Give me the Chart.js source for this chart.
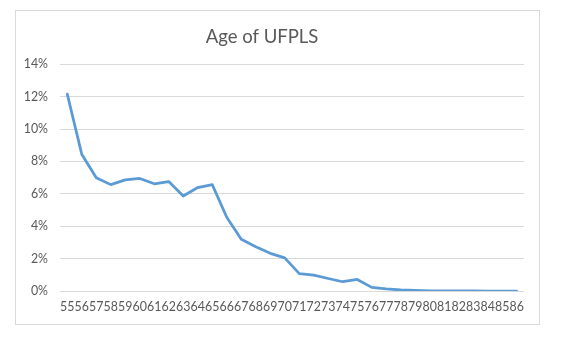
<!DOCTYPE html>
<html>
<head>
<meta charset="utf-8">
<script src="https://cdn.jsdelivr.net/npm/chart.js@4"></script>
<style>
  html, body { margin: 0; padding: 0; background: #fff; }
  #wrap { position: relative; width: 564px; height: 344px; }
</style>
</head>
<body>
<div id="wrap"><canvas id="c" width="564" height="344"></canvas></div>
<script>
const title = 'Age of UFPLS';
const ages = ['55','56','57','58','59','60','61','62','63','64','65','66','67','68','69','70',
              '71','72','73','74','75','76','77','78','79','80','81','82','83','84','85','86'];
const sharePct = [12.15, 8.45, 7.0, 6.57, 6.86, 6.95, 6.62, 6.76, 5.87, 6.39, 6.57, 4.56,
                  3.2, 2.74, 2.33, 2.05, 1.08, 0.99, 0.78, 0.58, 0.72, 0.23, 0.14, 0.07,
                  0.05, 0.02, 0.01, 0.01, 0.01, 0.0, 0.0, 0.0];
const yMin = 0, yMax = 14, yStep = 2;

const frame = {
  id: 'frame',
  beforeDraw(chart) {
    const ctx = chart.ctx;
    ctx.save();
    ctx.fillStyle = '#ffffff';
    ctx.fillRect(0, 0, chart.width, chart.height);
    ctx.strokeStyle = '#D9D9D9';
    ctx.lineWidth = 1;
    ctx.strokeRect(15.5, 10.5, 524, 314);
    ctx.restore();
  }
};

new Chart(document.getElementById('c'), {
  type: 'line',
  data: {
    labels: ages,
    datasets: [{
      data: sharePct,
      borderColor: '#5B9BD5',
      borderWidth: 2.75,
      pointRadius: 0,
      tension: 0,
      borderJoinStyle: 'round',
      borderCapStyle: 'round',
      fill: false
    }]
  },
  options: {
    responsive: false,
    animation: false,
    layout: { padding: { left: 0, right: 40, top: 0, bottom: 22 } },
    plugins: {
      legend: { display: false },
      tooltip: { enabled: false },
      title: {
        display: true,
        text: title,
        color: '#595959',
        font: { family: 'Lato', size: 18.5, weight: 'normal' },
        padding: { top: 26, bottom: 16 }
      }
    },
    scales: {
      x: {
        offset: true,
        grid: { display: false, drawTicks: false },
        border: { display: false },
        ticks: {
          autoSkip: false,
          maxRotation: 0,
          minRotation: 0,
          padding: 8,
          color: '#595959',
          font: { family: 'Lato', size: 12.4 }
        }
      },
      y: {
        min: yMin,
        max: yMax,
        afterFit(scale) { scale.width = 60; },
        grid: { color: '#D9D9D9', lineWidth: 1, drawTicks: false },
        border: { display: false },
        ticks: {
          stepSize: yStep,
          padding: 12,
          color: '#595959',
          font: { family: 'Lato', size: 12.4 },
          callback: v => v + '%'
        }
      }
    }
  },
  plugins: [frame]
});
</script>
</body>
</html>
